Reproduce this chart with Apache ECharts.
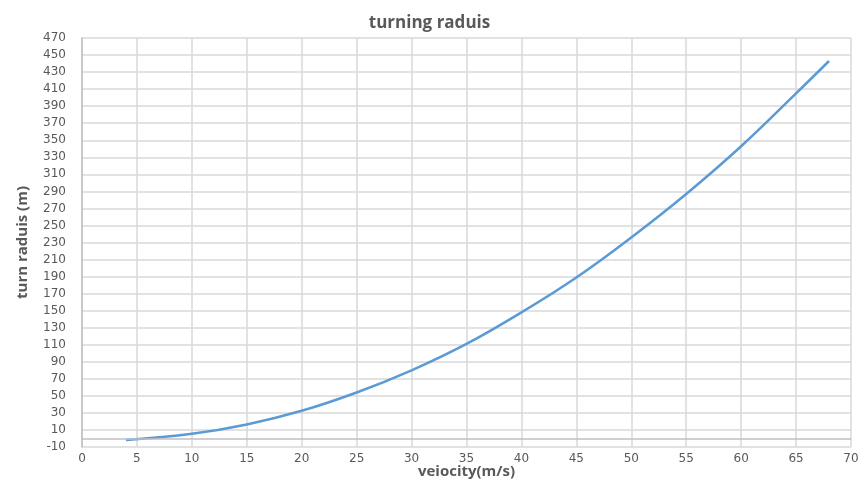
<!DOCTYPE html>
<html>
<head>
<meta charset="utf-8">
<title>turning raduis</title>
<script src="https://cdn.jsdelivr.net/npm/echarts@6/dist/echarts.min.js"></script>
<style>
  html, body { margin: 0; padding: 0; background: #ffffff; }
  #chart { width: 859px; height: 483px; }
</style>
</head>
<body>
<div id="chart"></div>
<script>
// velocity (m/s) and the resulting turn radius (m)
const velocity = [4, 10, 15, 20, 25, 30, 35, 40, 45, 50, 55, 60, 65, 68];
const turnRadius = [-1.8, 5.5, 16.5, 32.5, 54, 80, 111, 148, 189, 236, 287, 343, 405, 443];

// axis ranges and tick steps
const xRange = [0, 70];
const xStep = 5;
const yRange = [-10, 470];
const yStep = 20;

const labelColor = '#595959';
const gridColor = '#d9d9d9';
const font = 'DejaVu Sans';

const chart = echarts.init(document.getElementById('chart'), null, { renderer: 'canvas' });

chart.setOption({
  backgroundColor: '#ffffff',
  animation: false,
  title: {
    text: 'turning raduis',
    left: 'center',
    top: 10,
    textStyle: { fontFamily: 'Open Sans', fontWeight: 'bold', fontSize: 17, color: labelColor }
  },
  grid: { left: 82, right: 8, top: 38, bottom: 36, containLabel: false, outerBoundsMode: 'none' },
  xAxis: {
    type: 'value',
    min: xRange[0],
    max: xRange[1],
    interval: xStep,
    name: 'veiocity(m/s)',
    nameLocation: 'middle',
    nameGap: 17,
    nameMoveOverlap: false,
    nameTextStyle: { fontFamily: 'Open Sans', fontWeight: 'bold', fontSize: 15, color: labelColor },
    axisLine: { show: false },
    axisTick: { show: false },
    axisLabel: { color: labelColor, fontFamily: font, fontSize: 12, margin: 6 },
    splitLine: { show: true, lineStyle: { color: gridColor, width: 1.5 } }
  },
  yAxis: {
    type: 'value',
    min: yRange[0],
    max: yRange[1],
    interval: yStep,
    name: 'turn raduis (m)',
    nameLocation: 'middle',
    nameGap: 52,
    nameMoveOverlap: false,
    nameTextStyle: { fontFamily: 'Open Sans', fontWeight: 'bold', fontSize: 15, color: labelColor },
    axisLine: { show: true, lineStyle: { color: '#bfbfbf', width: 1.5 } },
    axisTick: { show: false },
    axisLabel: { color: labelColor, fontFamily: font, fontSize: 12, margin: 16 },
    splitLine: { show: true, lineStyle: { color: gridColor, width: 1.5 } }
  },
  series: [{
    type: 'line',
    data: velocity.map((v, i) => [v, turnRadius[i]]),
    smooth: 0.4,
    showSymbol: false,
    lineStyle: { color: '#5b9bd5', width: 2.5 },
    markLine: {
      silent: true,
      symbol: 'none',
      label: { show: false },
      lineStyle: { color: '#bfbfbf', width: 1.5, type: 'solid' },
      data: [{ yAxis: 0 }]
    }
  }]
});
</script>
</body>
</html>
